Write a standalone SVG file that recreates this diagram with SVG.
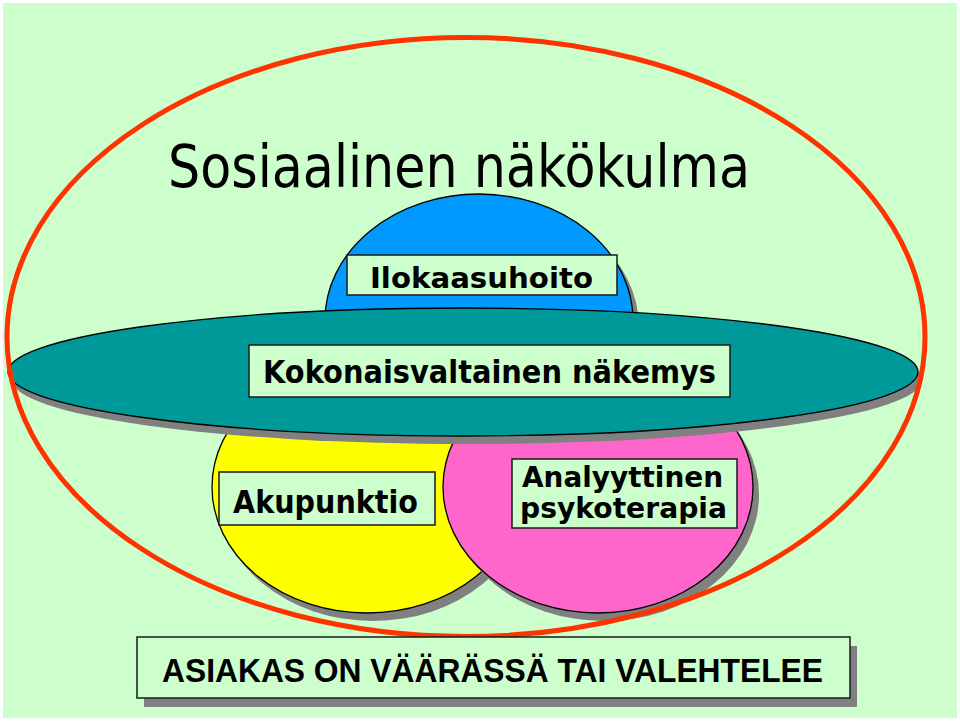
<svg xmlns="http://www.w3.org/2000/svg" width="960" height="722" viewBox="0 0 960 722">
  <style>
    .shadow { fill: #808080; stroke: none; }
    .shape { stroke: #000000; stroke-width: 1.3; }
    .label { fill: #CCFFCC; stroke: #1a1a1a; stroke-width: 1.5; }
    .lbl { font-family: "DejaVu Sans", Verdana, sans-serif; font-weight: bold; fill: #000000; }
  </style>
  <rect x="0" y="0" width="960" height="722" fill="#FFFFFF"/>
  <rect x="3" y="3" width="954" height="715" fill="#CCFFCC"/>

  <g id="title">
    <text x="168" y="187" font-family="DejaVu Sans, Verdana, sans-serif" font-size="59" fill="#000000" textLength="582" lengthAdjust="spacingAndGlyphs">Sosiaalinen näkökulma</text>
  </g>

  <g id="ilokaasuhoito">
    <ellipse class="shadow" cx="485" cy="327" rx="154" ry="126"/>
    <ellipse class="shape" cx="479" cy="320" rx="154" ry="126" fill="#0099FF"/>
  </g>

  <g id="akupunktio">
    <ellipse class="shadow" cx="373" cy="495" rx="155" ry="126"/>
    <ellipse class="shape" cx="367" cy="487" rx="155" ry="126" fill="#FFFF00"/>
  </g>

  <g id="analyyttinen">
    <ellipse class="shadow" cx="604" cy="495" rx="155" ry="126"/>
    <ellipse class="shape" cx="598" cy="487" rx="155" ry="126" fill="#FF66CC"/>
  </g>

  <g id="kokonaisvaltainen">
    <ellipse class="shadow" cx="467" cy="380" rx="455" ry="64"/>
    <ellipse class="shape" cx="463" cy="372" rx="455" ry="64" fill="#009999"/>
  </g>

  <g id="sosiaalinen-ellipse">
    <ellipse cx="466" cy="337" rx="459" ry="299.5" fill="none" stroke="#FF3300" stroke-width="5"/>
  </g>

  <g id="label-ilokaasuhoito">
    <rect class="label" x="347" y="255" width="270" height="40"/>
    <text class="lbl" x="370" y="288" font-size="29" textLength="223" lengthAdjust="spacingAndGlyphs">Ilokaasuhoito</text>
  </g>

  <g id="label-kokonaisvaltainen">
    <rect class="label" x="249" y="345" width="481" height="52"/>
    <text class="lbl" x="263" y="383" font-size="32" textLength="453" lengthAdjust="spacingAndGlyphs">Kokonaisvaltainen näkemys</text>
  </g>

  <g id="label-akupunktio">
    <rect class="label" x="219" y="472" width="216" height="53"/>
    <text class="lbl" x="233" y="513" font-size="32" textLength="185" lengthAdjust="spacingAndGlyphs">Akupunktio</text>
  </g>

  <g id="label-analyyttinen">
    <rect class="label" x="512" y="459" width="225" height="69"/>
    <text class="lbl" x="522" y="487" font-size="28" textLength="201" lengthAdjust="spacingAndGlyphs">Analyyttinen</text>
    <text class="lbl" x="520" y="518" font-size="28" textLength="207" lengthAdjust="spacingAndGlyphs">psykoterapia</text>
  </g>

  <g id="asiakas">
    <rect class="shadow" x="144" y="646" width="713" height="61"/>
    <rect class="label" x="137" y="637" width="713" height="61"/>
    <text x="162" y="682" font-family="Liberation Sans, Arial, sans-serif" font-weight="bold" font-size="34" fill="#000000" textLength="661" lengthAdjust="spacingAndGlyphs">ASIAKAS ON VÄÄRÄSSÄ TAI VALEHTELEE</text>
  </g>
</svg>
